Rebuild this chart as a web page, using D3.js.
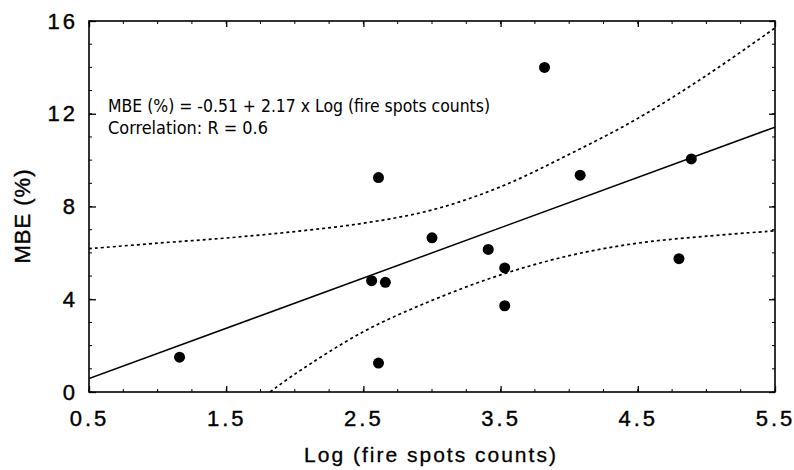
<!DOCTYPE html>
<html>
<head>
<meta charset="utf-8">
<script src="https://cdn.jsdelivr.net/npm/d3@7"></script>
<style>
  body { margin: 0; background: #fff; }
  svg { display: block; }
  .tick text { font-family: "Liberation Sans", Arial, sans-serif; }
</style>
</head>
<body>
<script>

// scatter points
var pointX = [1.16, 2.56, 2.66, 2.61, 2.61, 3.00, 3.41, 3.53, 3.53, 3.82, 4.08, 4.80, 4.89];
var pointY = [1.50, 4.80, 4.73, 9.25, 1.25, 6.65, 6.15, 5.35, 3.72, 14.0, 9.35, 5.75, 10.05];

// regression line end points
var fitX = [0.5, 5.5];
var fitY = [0.575, 11.425];

// dotted confidence bands
var upperX = [0.5, 1.0, 1.5, 2.0, 2.5, 3.0, 3.5, 4.0, 4.5, 5.0, 5.5];
var upperY = [6.18, 6.42, 6.64, 6.92, 7.28, 7.85, 8.85, 10.25, 11.8, 13.65, 15.7];
var lowerX = [1.82, 2.0, 2.5, 3.0, 3.5, 4.0, 4.5, 5.0, 5.5];
var lowerY = [0, 0.77, 2.6, 3.95, 5.05, 5.88, 6.42, 6.72, 6.95];

// tick labels
var xTicks = [0.5, 1.5, 2.5, 3.5, 4.5, 5.5];
var yTicks = [0, 4, 8, 12, 16];
var xMinor = d3.range(0.5, 5.51, 0.25);
var yMinor = d3.range(0, 16.1, 1);

var equationText = "MBE (%) = -0.51 + 2.17 x Log (fire spots counts)";
var correlationText = "Correlation: R = 0.6";

var w = 794;
var h = 470;
var margin = {top: 21, right: 19, bottom: 78, left: 89};

var svg = d3.select("body")
            .append("svg")
            .attr("width", w)
            .attr("height", h);

var xScale = d3.scaleLinear()
               .domain([0.5, 5.5])
               .range([margin.left, w - margin.right]);

var yScale = d3.scaleLinear()
               .domain([0, 16])
               .range([h - margin.bottom, margin.top]);

var x0 = xScale.range()[0], x1 = xScale.range()[1];
var y0 = yScale.range()[0], y1 = yScale.range()[1];

svg.append("clipPath")
   .attr("id", "plotClip")
   .append("rect")
   .attr("x", x0).attr("y", y1)
   .attr("width", x1 - x0).attr("height", y0 - y1);

// bottom axis with labels, ticks inward
var xAxis = d3.axisBottom(xScale)
              .tickValues(xTicks)
              .tickSize(-6)
              .tickPadding(18)
              .tickFormat(d3.format(".1f"));

var gx = svg.append("g")
   .attr("transform", "translate(0," + y0 + ")")
   .call(xAxis);
gx.select(".domain").remove();
gx.selectAll("text")
  .style("font-size", "22px")
  .style("letter-spacing", "3px")
  .attr("fill", "#000")
  .attr("stroke", "#000")
  .attr("stroke-width", 0.4);

var yAxis = d3.axisLeft(yScale)
              .tickValues(yTicks)
              .tickSize(-7)
              .tickPadding(11);

var gy = svg.append("g")
   .attr("transform", "translate(" + x0 + ",0)")
   .call(yAxis);
gy.select(".domain").remove();
gy.selectAll("text")
  .style("font-size", "22px")
  .style("letter-spacing", "3px")
  .attr("fill", "#000")
  .attr("stroke", "#000")
  .attr("stroke-width", 0.4);

// top and right axes: ticks only
var gt = svg.append("g")
   .attr("transform", "translate(0," + y1 + ")")
   .call(d3.axisTop(xScale).tickValues(xTicks).tickSize(-6).tickFormat(""));
gt.select(".domain").remove();

var gr = svg.append("g")
   .attr("transform", "translate(" + x1 + ",0)")
   .call(d3.axisRight(yScale).tickValues(yTicks).tickSize(-6).tickFormat(""));
gr.select(".domain").remove();

// minor ticks on all four sides
var minor = svg.append("g").attr("stroke", "#000").attr("stroke-width", 1);
minor.selectAll(".mxb").data(xMinor).enter().append("line")
     .attr("x1", function(d) { return xScale(d); })
     .attr("x2", function(d) { return xScale(d); })
     .attr("y1", y0).attr("y2", y0 - 3);
minor.selectAll(".mxt").data(xMinor).enter().append("line")
     .attr("x1", function(d) { return xScale(d); })
     .attr("x2", function(d) { return xScale(d); })
     .attr("y1", y1).attr("y2", y1 + 3);
minor.selectAll(".myl").data(yMinor).enter().append("line")
     .attr("y1", function(d) { return yScale(d); })
     .attr("y2", function(d) { return yScale(d); })
     .attr("x1", x0).attr("x2", x0 + 3);
minor.selectAll(".myr").data(yMinor).enter().append("line")
     .attr("y1", function(d) { return yScale(d); })
     .attr("y2", function(d) { return yScale(d); })
     .attr("x1", x1).attr("x2", x1 - 3);

svg.selectAll(".tick line").attr("stroke", "#000").attr("stroke-width", 1.3);

// frame
svg.append("rect")
   .attr("x", x0).attr("y", y1)
   .attr("width", x1 - x0).attr("height", y0 - y1)
   .attr("fill", "none")
   .attr("stroke", "#000")
   .attr("stroke-width", 1.6);

var line = d3.line()
             .x(function(d) { return xScale(d[0]); })
             .y(function(d) { return yScale(d[1]); });

var curve = d3.line()
              .curve(d3.curveCatmullRom)
              .x(function(d) { return xScale(d[0]); })
              .y(function(d) { return yScale(d[1]); });

var plot = svg.append("g").attr("clip-path", "url(#plotClip)");

plot.append("path")
    .datum(d3.zip(upperX, upperY))
    .attr("d", curve)
    .attr("fill", "none")
    .attr("stroke", "#000")
    .attr("stroke-width", 1.7)
    .attr("stroke-dasharray", "3,3");

plot.append("path")
    .datum(d3.zip(lowerX, lowerY))
    .attr("d", curve)
    .attr("fill", "none")
    .attr("stroke", "#000")
    .attr("stroke-width", 1.7)
    .attr("stroke-dasharray", "3,3");

plot.append("path")
    .datum(d3.zip(fitX, fitY))
    .attr("d", line)
    .attr("fill", "none")
    .attr("stroke", "#000")
    .attr("stroke-width", 1.5);

svg.selectAll("circle")
   .data(d3.zip(pointX, pointY))
   .enter()
   .append("circle")
   .attr("cx", function(d) { return xScale(d[0]); })
   .attr("cy", function(d) { return yScale(d[1]); })
   .attr("r", 5.5)
   .attr("fill", "#000");

// annotation
svg.append("text")
   .attr("x", 108).attr("y", 112)
   .attr("textLength", 382)
   .attr("lengthAdjust", "spacingAndGlyphs")
   .style("font-family", "'DejaVu Sans Condensed', 'DejaVu Sans', sans-serif")
   .style("font-size", "18px")
   .text(equationText);

svg.append("text")
   .attr("x", 108).attr("y", 134)
   .attr("textLength", 160)
   .attr("lengthAdjust", "spacingAndGlyphs")
   .style("font-family", "'DejaVu Sans Condensed', 'DejaVu Sans', sans-serif")
   .style("font-size", "18px")
   .text(correlationText);

// axis titles
svg.append("text")
   .attr("x", (x0 + x1) / 2 - 1)
   .attr("y", 462)
   .style("text-anchor", "middle")
   .style("font-family", "'Liberation Sans', Arial, sans-serif")
   .style("font-size", "21px")
   .style("letter-spacing", "2px")
   .attr("stroke", "#000")
   .attr("stroke-width", 0.3)
   .text("Log (fire spots counts)");

svg.append("text")
   .attr("transform", "rotate(-90)")
   .attr("x", -216)
   .attr("y", 30)
   .style("text-anchor", "middle")
   .style("font-family", "'Liberation Sans', Arial, sans-serif")
   .style("font-size", "22px")
   .style("letter-spacing", "1px")
   .attr("stroke", "#000")
   .attr("stroke-width", 0.4)
   .text("MBE (%)");

</script>
</body>
</html>
